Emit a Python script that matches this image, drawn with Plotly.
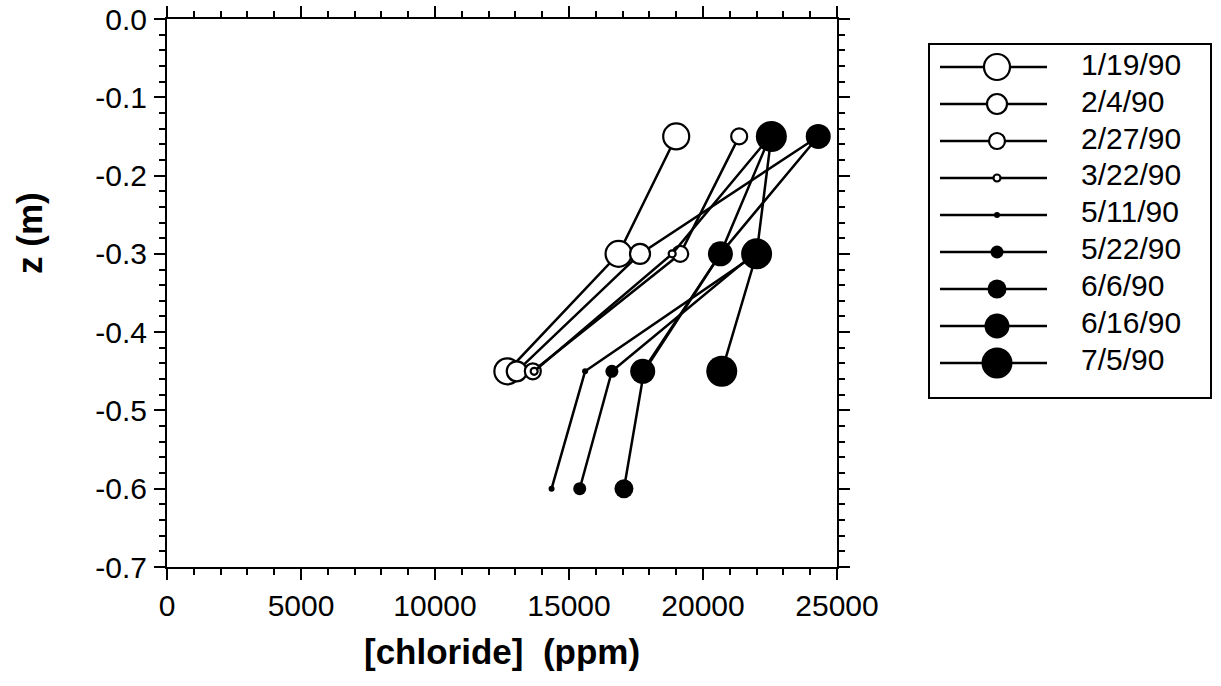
import plotly.graph_objects as go

W, H = 1221, 686

# ---------------- data ----------------
depths = [-0.15, -0.30, -0.45, -0.60]          # z (m)
dates = ["1/19/90", "2/4/90", "2/27/90", "3/22/90", "5/11/90",
         "5/22/90", "6/6/90", "6/16/90", "7/5/90"]

cl_0119 = [19000, 16850, 12700, None]
cl_0204 = [24300, 17650, 13050, None]
cl_0227 = [21350, 19150, 13650, None]
cl_0322 = [22500, 18850, 13700, None]
cl_0511 = [None, 22000, 15600, 14350]
cl_0522 = [None, 21900, 16600, 15400]
cl_0606 = [22500, 20650, 17800, 17050]
cl_0616 = [24300, 20650, 17750, None]
cl_0705 = [22550, 22000, 20700, None]
chloride = [cl_0119, cl_0204, cl_0227, cl_0322, cl_0511,
            cl_0522, cl_0606, cl_0616, cl_0705]

x_tickvals = [0, 5000, 10000, 15000, 20000, 25000]
x_ticktext = ["0", "5000", "10000", "15000", "20000", "25000"]
y_tickvals = [0.0, -0.1, -0.2, -0.3, -0.4, -0.5, -0.6, -0.7]
y_ticktext = ["0.0", "-0.1", "-0.2", "-0.3", "-0.4", "-0.5", "-0.6", "-0.7"]

# ---------------- styles ----------------
filled = [False, False, False, False, True, True, True, True, True]
msize = [26, 20, 16, 7, 6, 13, 19, 25, 31]

TICKFONT = dict(family="Liberation Sans, Arial, sans-serif", size=30, color="black")
LEGFONT = dict(family="Liberation Sans, Arial, sans-serif", size=30, color="black")
TITLEFONT = dict(family="Liberation Sans, Arial, sans-serif", size=35, color="black", weight="bold")


def marker_style(i):
    if filled[i]:
        return dict(symbol="circle", size=msize[i], color="black",
                    line=dict(color="black", width=0))
    return dict(symbol="circle", size=msize[i], color="white",
                line=dict(color="black", width=2.2))


fig = go.Figure()

# main series
for i, name in enumerate(dates):
    fig.add_trace(go.Scatter(
        x=chloride[i], y=depths, mode="lines+markers", name=name,
        line=dict(color="black", width=2.5),
        marker=marker_style(i), connectgaps=False, showlegend=False,
        xaxis="x", yaxis="y"))

# custom legend drawn in its own axes (so marker sizes match the plot)
for i, name in enumerate(dates):
    fig.add_trace(go.Scatter(
        x=[10, 117], y=[-i, -i], mode="lines",
        line=dict(color="black", width=2.5),
        showlegend=False, hoverinfo="skip", xaxis="x2", yaxis="y2"))
    fig.add_trace(go.Scatter(
        x=[67], y=[-i], mode="markers", marker=marker_style(i),
        showlegend=False, hoverinfo="skip", xaxis="x2", yaxis="y2"))
fig.add_trace(go.Scatter(
    x=[151] * len(dates), y=[-i for i in range(len(dates))], mode="text",
    text=dates, textposition="middle right", textfont=LEGFONT,
    showlegend=False, hoverinfo="skip", xaxis="x2", yaxis="y2"))

# pixel geometry -> paper fractions
PL, PR, PT, PB = 167, 837, 19, 567
LL, LR, LT, LB = 930, 1210, 45, 397

axis_common = dict(
    showline=True, linecolor="black", linewidth=2, mirror="allticks",
    ticks="outside", tickwidth=2, tickcolor="black", ticklen=11,
    showgrid=False, zeroline=False, tickfont=TICKFONT, automargin=False,
    ticklabeloverflow="allow",
)

fig.update_layout(
    width=W, height=H,
    margin=dict(l=0, r=0, t=0, b=0),
    paper_bgcolor="white", plot_bgcolor="white",
    showlegend=False,
    xaxis=dict(
        domain=[PL / W, PR / W], range=[0, 25000], anchor="y",
        tickmode="array", tickvals=x_tickvals, ticktext=x_ticktext,
        minor=dict(dtick=1000, tick0=0, ticks="outside", ticklen=6, tickwidth=2,
                   tickcolor="black", showgrid=False),
        ticklabelstandoff=0,
        **axis_common),
    yaxis=dict(
        domain=[1 - PB / H, 1 - PT / H], range=[-0.7, 0.0], anchor="x",
        tickmode="array", tickvals=y_tickvals, ticktext=y_ticktext,
        minor=dict(dtick=0.02, tick0=0, ticks="outside", ticklen=6, tickwidth=2,
                   tickcolor="black", showgrid=False),
        ticklabelstandoff=1,
        **axis_common),
    xaxis2=dict(
        domain=[LL / W, LR / W], range=[0, LR - LL], anchor="y2",
        showline=True, mirror=True, linecolor="black", linewidth=2,
        showticklabels=False, ticks="", showgrid=False, zeroline=False),
    yaxis2=dict(
        domain=[1 - LB / H, 1 - LT / H], range=[-8.92, 0.595], anchor="x2",
        showline=True, mirror=True, linecolor="black", linewidth=2,
        showticklabels=False, ticks="", showgrid=False, zeroline=False),
    annotations=[
        dict(text="[chloride]  (ppm)", xref="paper", yref="paper",
             x=((PL + PR) / 2) / W, y=1 - 651 / H,
             xanchor="center", yanchor="middle",
             showarrow=False, font=TITLEFONT),
        dict(text="z (m)", xref="paper", yref="paper",
             x=30 / W, y=1 - 233 / H,
             xanchor="center", yanchor="middle",
             textangle=-90, showarrow=False, font=TITLEFONT),
    ],
)

# remove the browser's default 8 px body margin so the figure fills the window
fig.write_html("out.html",
               config={"displayModeBar": False, "staticPlot": True},
               post_script="document.body.style.margin='0px';"
                           "document.body.style.overflow='hidden';")
